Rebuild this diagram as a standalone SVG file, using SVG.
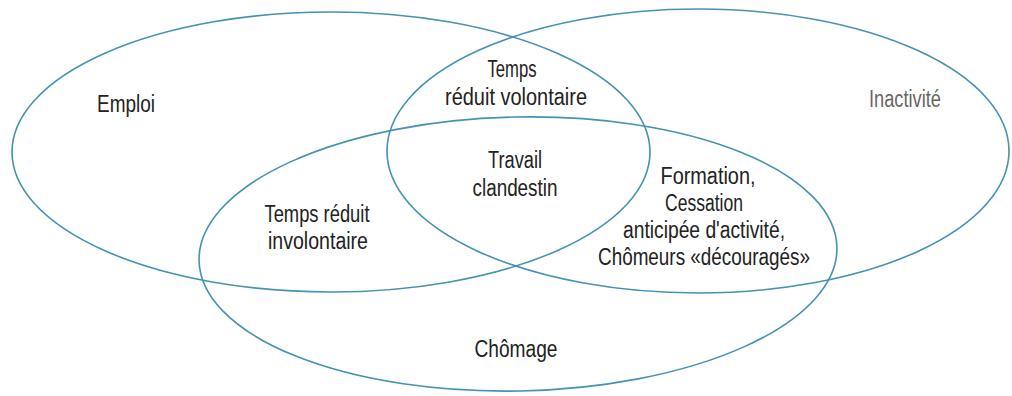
<svg xmlns="http://www.w3.org/2000/svg" width="1012" height="396" viewBox="0 0 1012 396">
<style>
.set{fill:none;stroke:#4592b3;stroke-width:1.6}
.lbl{font-family:"Liberation Sans",Arial,sans-serif;font-size:23px;fill:#222;text-anchor:middle}
.lt{fill:#666}
</style>
<rect width="1012" height="396" fill="#ffffff"/>
<g id="sets">
<ellipse id="emploi" class="set" cx="331" cy="152" rx="319" ry="140"/>
<ellipse id="inactivite" class="set" cx="698" cy="151" rx="311" ry="142"/>
<ellipse id="chomage" class="set" cx="518" cy="254" rx="319" ry="137" transform="rotate(-1.2 518 254)"/>
</g>
<g id="labels">
<text class="lbl" x="126" y="112" textLength="58" lengthAdjust="spacingAndGlyphs">Emploi</text>
<text class="lbl lt" x="905" y="107" textLength="72" lengthAdjust="spacingAndGlyphs">Inactivité</text>
<text class="lbl" x="512" y="77" textLength="49" lengthAdjust="spacingAndGlyphs">Temps</text>
<text class="lbl" x="516" y="105" textLength="142" lengthAdjust="spacingAndGlyphs">réduit volontaire</text>
<text class="lbl" x="515" y="168" textLength="54" lengthAdjust="spacingAndGlyphs">Travail</text>
<text class="lbl" x="515" y="196" textLength="85" lengthAdjust="spacingAndGlyphs">clandestin</text>
<text class="lbl" x="317" y="222" textLength="105" lengthAdjust="spacingAndGlyphs">Temps réduit</text>
<text class="lbl" x="318" y="249" textLength="100" lengthAdjust="spacingAndGlyphs">involontaire</text>
<text class="lbl" x="708" y="184" textLength="95" lengthAdjust="spacingAndGlyphs">Formation,</text>
<text class="lbl" x="704" y="211" textLength="78" lengthAdjust="spacingAndGlyphs">Cessation</text>
<text class="lbl" x="704" y="238" textLength="162" lengthAdjust="spacingAndGlyphs">anticipée d'activité,</text>
<text class="lbl" x="704" y="265" textLength="212" lengthAdjust="spacingAndGlyphs">Chômeurs «découragés»</text>
<text class="lbl" x="516" y="357" textLength="83" lengthAdjust="spacingAndGlyphs">Chômage</text>
</g>
</svg>
